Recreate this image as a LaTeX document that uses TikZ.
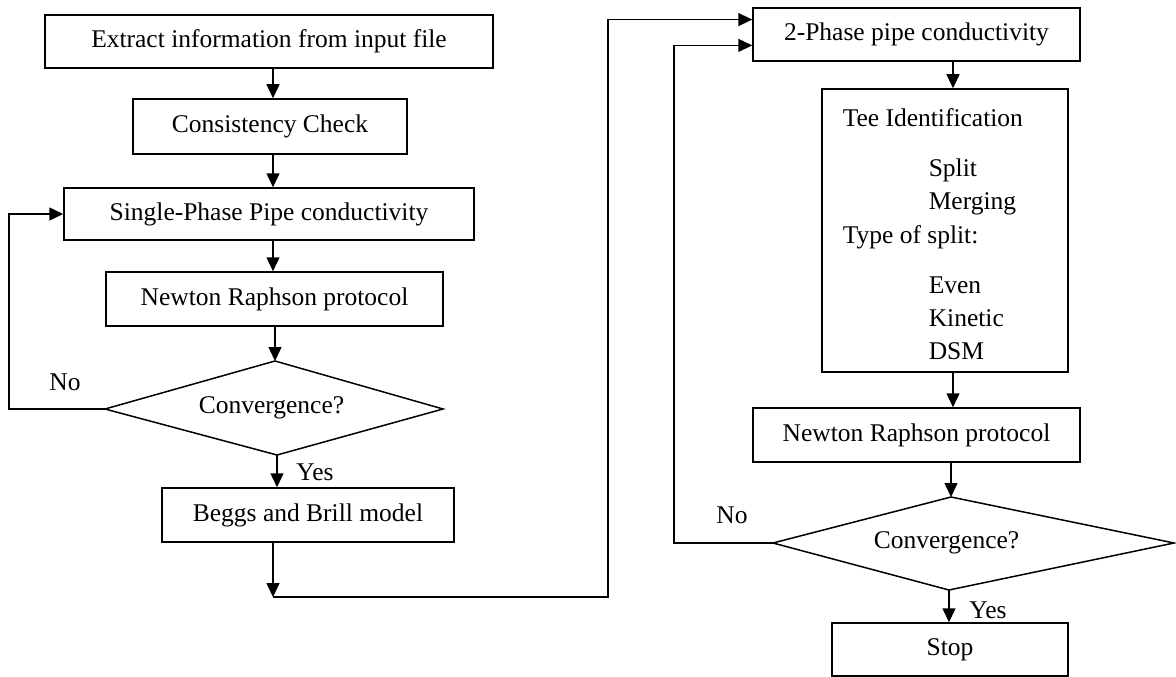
\documentclass[tikz,border=0pt]{standalone}
\usepackage{fontspec}
\setmainfont{Liberation Serif}
\usetikzlibrary{arrows.meta,calc}
\begin{document}
\begin{tikzpicture}[x=1pt,y=-1pt,
  font=\fontsize{25.5}{30}\selectfont,
  line width=1.5pt,
  box/.style={draw, rectangle, inner sep=0pt},
  arr/.style={-{Triangle[length=14pt,width=13pt]}},
  txt/.style={anchor=base west, inner sep=0pt}]
\useasboundingbox (0,0) rectangle (1176,677);

% column axes and routing points
\coordinate (axisL) at (273,0);
\coordinate (axisR) at (953,0);
\coordinate (loopA) at (9,0);
\coordinate (loopB) at (674,0);
\coordinate (riser) at (608,0);

% left column
\node[box, minimum width=448, minimum height=53] (extract) at (269,41.5) {Extract information from input file};
\node[box, minimum width=274, minimum height=55] (check) at (270,126.5) {Consistency Check};
\node[box, minimum width=410, minimum height=52] (single) at (269,214) {Single-Phase Pipe conductivity};
\node[box, minimum width=337, minimum height=54] (newtonA) at (274.5,299) {Newton Raphson protocol};

\coordinate (d1t) at (275,361);
\coordinate (d1r) at (443,409);
\coordinate (d1b) at (277,455);
\coordinate (d1l) at (105,409);
\draw (d1t) -- (d1r) -- (d1b) -- (d1l) -- cycle;
\node (convA) at (271.5,408) {Convergence?};

\node[box, minimum width=292, minimum height=54] (beggs) at (308,515) {Beggs and Brill model};
\coordinate (j1) at (273,597);

% right column
\node[box, minimum width=327, minimum height=53] (twophase) at (916.5,34.5) {2-Phase pipe conductivity};
\coordinate (in1) at ($(twophase.north west)!0.226!(twophase.south west)$);
\coordinate (in2) at ($(twophase.north west)!0.70!(twophase.south west)$);

\node[box, minimum width=246, minimum height=283] (tee) at (945,230.5) {};
\node[txt] (teeA) at (842,126) {Tee Identification};
\node[txt] (teeB) at (928,176) {Split};
\node[txt] (teeC) at (928,209) {Merging};
\node[txt] (teeD) at (842,243) {Type of split:};
\node[txt] (teeE) at (928,293) {Even};
\node[txt] (teeF) at (928,326) {Kinetic};
\node[txt] (teeG) at (928,359) {DSM};

\node[box, minimum width=327, minimum height=54] (newtonB) at (916.5,435) {Newton Raphson protocol};

\coordinate (d2t) at (951,497);
\coordinate (d2r) at (1174,543);
\coordinate (d2b) at (949,590);
\coordinate (d2l) at (773,543);
\draw (d2t) -- (d2r) -- (d2b) -- (d2l) -- cycle;
\node (convB) at (946.5,543) {Convergence?};

\node[box, minimum width=236, minimum height=53] (stop) at (950,649.5) {Stop};

% labels
\node (noA) at (65,382) {No};
\node (yesA) at (315,472) {Yes};
\node (noB) at (732,515) {No};
\node (yesB) at (988,610) {Yes};

% connectors, left column
\draw[arr] (extract.south -| axisL) -- (check.north -| axisL);
\draw[arr] (check.south -| axisL) -- (single.north -| axisL);
\draw[arr] (single.south -| axisL) -- (newtonA.north -| axisL);
\draw[arr] (newtonA.south -| d1t) -- (d1t);
\draw[arr] (d1b) -- (beggs.north -| d1b);
\draw[arr] (d1l) -- (d1l -| loopA) -- (loopA |- single.west) -- (single.west);
\draw[arr] (beggs.south -| j1) -- (j1);
\draw[arr] (j1) -- (j1 -| riser) -- (riser |- in1) -- (in1);

% connectors, right column
\draw[arr] (twophase.south -| axisR) -- (tee.north -| axisR);
\draw[arr] (tee.south -| axisR) -- (newtonB.north -| axisR);
\draw[arr] (newtonB.south -| d2t) -- (d2t);
\draw[arr] (d2b) -- (stop.north -| d2b);
\draw[arr] (d2l) -- (d2l -| loopB) -- (loopB |- in2) -- (in2);
\end{tikzpicture}
\end{document}
